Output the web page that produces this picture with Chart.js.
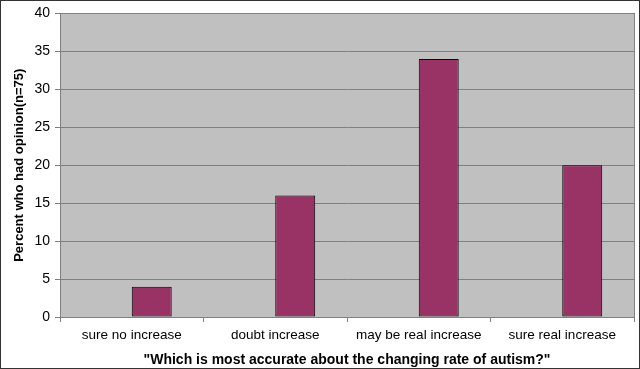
<!DOCTYPE html>
<html>
<head>
<meta charset="utf-8">
<script src="https://cdn.jsdelivr.net/npm/chart.js@4"></script>
<style>
  html, body { margin: 0; padding: 0; background: #fff; }
  #wrap { width: 640px; height: 369px; }
</style>
</head>
<body>
<div id="wrap"><canvas id="c" width="640" height="369"></canvas></div>
<script>
const categories = ["sure no increase", "doubt increase", "may be real increase", "sure real increase"];
// the original sheet has an empty first series, which pushes the bars right of centre
const emptySeries = [null, null, null, null];
const values = [4, 16, 34, 20];
const yTitle = "Percent who had opinion(n=75)";
const xTitle = "\"Which is most accurate about the changing rate of autism?\"";

// gray plot area + its border, and a frame round the whole picture
const frame = {
  id: 'frame',
  beforeDraw(chart) {
    const { ctx, chartArea: a } = chart;
    ctx.save();
    ctx.fillStyle = '#c0c0c0';
    ctx.fillRect(a.left, a.top, a.right - a.left, a.bottom - a.top);
    ctx.restore();
  },
  afterDraw(chart) {
    const { ctx, chartArea: a, width, height } = chart;
    ctx.save();
    ctx.strokeStyle = '#808080';
    ctx.lineWidth = 1;
    ctx.strokeRect(Math.round(a.left) + 0.5, Math.round(a.top) + 0.5,
                   Math.round(a.right - a.left), Math.round(a.bottom - a.top));
    ctx.strokeStyle = '#333';
    ctx.strokeRect(0.5, 0.5, width - 1, height - 1);
    ctx.restore();
  }
};

new Chart(document.getElementById("c"), {
  type: 'bar',
  data: {
    labels: categories,
    datasets: [
      { data: emptySeries, backgroundColor: '#9999ff', barPercentage: 1, categoryPercentage: 0.557 },
      {
        data: values,
        backgroundColor: '#993366',
        borderColor: '#000',
        borderWidth: 1,
        borderSkipped: false,
        barPercentage: 1,
        categoryPercentage: 0.557
      }
    ]
  },
  options: {
    responsive: false,
    animation: false,
    layout: { padding: { top: 8, right: 6, left: 0, bottom: 0 } },
    plugins: { legend: { display: false }, tooltip: { enabled: false } },
    scales: {
      x: {
        afterFit(s) { s.height = 52; },
        grid: { offset: true, drawOnChartArea: false, color: '#808080', tickLength: 5 },
        border: { color: '#808080' },
        ticks: { color: '#000', font: { family: 'Liberation Sans, Arial', size: 13.5 }, padding: 5 },
        title: {
          display: true, text: xTitle, color: '#000',
          font: { family: 'Liberation Sans, Arial', size: 14, weight: 'bold' },
          padding: { top: 1, bottom: 0 }
        }
      },
      y: {
        min: 0, max: 40,
        afterFit(s) { s.width = 60; },
        grid: { color: '#808080', tickLength: 5 },
        border: { color: '#808080' },
        ticks: { stepSize: 5, color: '#000', font: { family: 'Liberation Sans, Arial', size: 14 }, padding: 5 },
        title: {
          display: true, text: yTitle, color: '#000',
          font: { family: 'Liberation Sans, Arial', size: 13, weight: 'bold' },
          padding: { top: 12, bottom: 4 }
        }
      }
    }
  },
  plugins: [frame]
});
</script>
</body>
</html>
